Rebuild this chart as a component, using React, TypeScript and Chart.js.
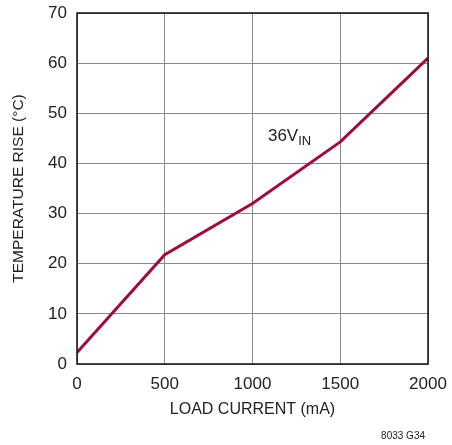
import React, { useEffect, useRef } from "react";
import { Chart, registerables } from "chart.js";

Chart.register(...registerables);

const loadCurrent = [0, 500, 1000, 1500, 2000];
const tempRise = [2.3, 21.8, 32, 44.3, 61];
const xTicks = [0, 500, 1000, 1500, 2000];
const yTicks = [0, 10, 20, 30, 40, 50, 60, 70];
const seriesLabel = "36V";
const seriesSub = "IN";
const labelAt = { x: 1088, y: 44.5 };
const xTitle = "LOAD CURRENT (mA)";
const yTitle = "TEMPERATURE RISE (°C)";
const footnote = "8033 G34";

const FONT = "'Liberation Sans', Arial, sans-serif";
const LINE_COLOR = "#9c0d3a";

const decorPlugin = {
  id: "decor",
  afterDraw(chart: any) {
    const { ctx, chartArea, scales } = chart;
    ctx.save();
    ctx.strokeStyle = "#111";
    ctx.lineWidth = 1.5;
    ctx.strokeRect(chartArea.left, chartArea.top, chartArea.right - chartArea.left, chartArea.bottom - chartArea.top);
    const x = scales.x.getPixelForValue(labelAt.x);
    const y = scales.y.getPixelForValue(labelAt.y);
    ctx.fillStyle = "#222";
    ctx.textBaseline = "alphabetic";
    ctx.textAlign = "left";
    ctx.font = `17px ${FONT}`;
    ctx.fillText(seriesLabel, x, y);
    const w = ctx.measureText(seriesLabel).width;
    ctx.font = `13px ${FONT}`;
    ctx.fillText(seriesSub, x + w, y + 4);
    ctx.font = `10px ${FONT}`;
    ctx.textAlign = "right";
    ctx.fillText(footnote, chart.width - 27, chart.height - 6);
    ctx.restore();
  },
};

export default function App() {
  const ref = useRef<HTMLCanvasElement>(null);
  useEffect(() => {
    if (!ref.current) return;
    const chart = new Chart(ref.current, {
      type: "line",
      data: {
        datasets: [
          {
            data: loadCurrent.map((v, i) => ({ x: v, y: tempRise[i] })),
            borderColor: LINE_COLOR,
            borderWidth: 3,
            pointRadius: 0,
            tension: 0,
            fill: false,
          },
        ],
      },
      options: {
        animation: false,
        responsive: false,
        layout: { padding: { left: 0, top: 13, right: 24, bottom: 0 } },
        plugins: { legend: { display: false }, tooltip: { enabled: false } },
        scales: {
          x: {
            type: "linear",
            min: 0,
            max: 2000,
            afterBuildTicks: (s: any) => {
              s.ticks = xTicks.map((v) => ({ value: v }));
            },
            afterFit: (s: any) => {
              s.height = 81;
              s.paddingLeft = 0;
              s.paddingRight = 0;
            },
            grid: { color: "#8a8a8a", lineWidth: 1, drawTicks: false },
            border: { display: false },
            ticks: {
              padding: 10,
              color: "#222",
              font: { family: FONT, size: 17 },
              maxRotation: 0,
              callback: (v: any) => String(v),
            },
            title: {
              display: true,
              text: xTitle,
              color: "#222",
              font: { family: FONT, size: 16 },
              padding: { top: 0, bottom: 26 },
            },
          },
          y: {
            type: "linear",
            min: 0,
            max: 70,
            afterBuildTicks: (s: any) => {
              s.ticks = yTicks.map((v) => ({ value: v }));
            },
            afterFit: (s: any) => {
              s.width = 77;
              s.paddingTop = 0;
              s.paddingBottom = 0;
            },
            grid: { color: "#8a8a8a", lineWidth: 1, drawTicks: false },
            border: { display: false },
            ticks: { padding: 10, color: "#222", font: { family: FONT, size: 17 }, callback: (v: any) => String(v) },
            title: {
              display: true,
              text: yTitle,
              color: "#222",
              font: { family: FONT, size: 15.5 },
              padding: { top: 9, bottom: 0 },
            },
          },
        },
      },
      plugins: [decorPlugin],
    });
    return () => chart.destroy();
  }, []);
  return (
    <div style={{ position: "absolute", left: 0, top: 0, width: 452, height: 445, background: "#fff" }}>
      <canvas ref={ref} width={452} height={445} />
    </div>
  );
}
